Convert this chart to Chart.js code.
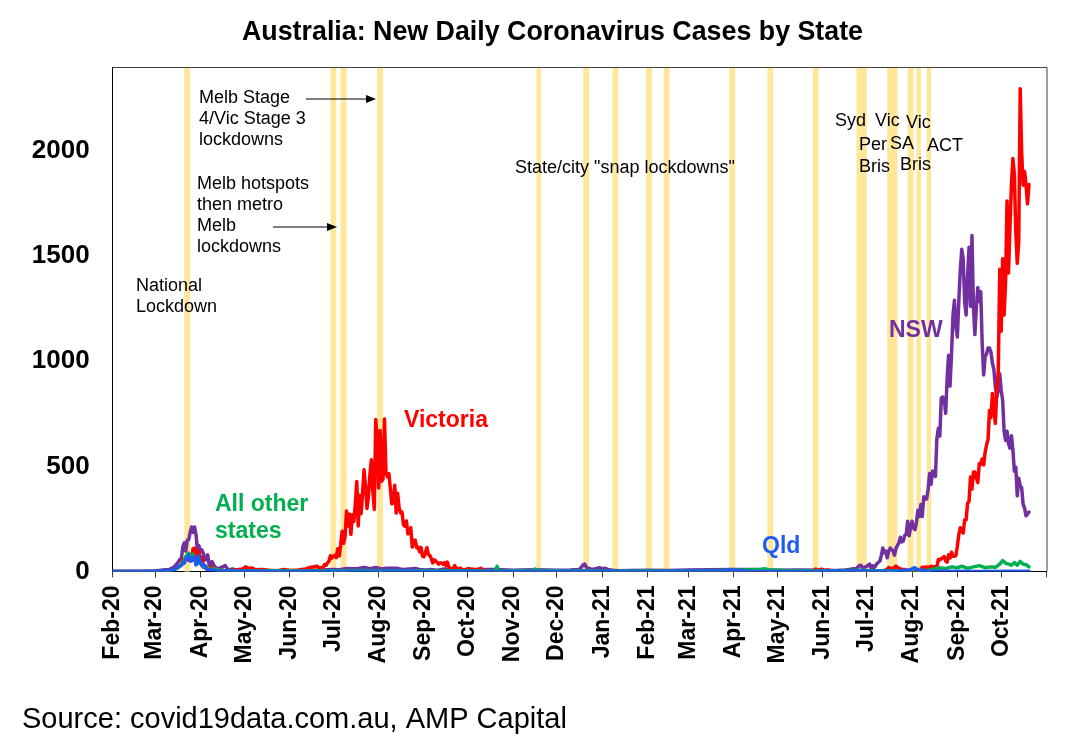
<!DOCTYPE html>
<html>
<head>
<meta charset="utf-8">
<script src="https://cdn.jsdelivr.net/npm/chart.js@4.4.1/dist/chart.umd.min.js"></script>
<style>
html,body{margin:0;padding:0;background:#fff;}
#wrap{width:1075px;height:743px;position:relative;}
</style>
</head>
<body>
<div id="wrap"><canvas id="c" width="1075" height="743"></canvas></div>
<script>
// ---------- DATA ----------
const tickDates = ['2020-02-01','2020-03-01','2020-04-01','2020-05-01','2020-06-01','2020-07-01','2020-08-01','2020-09-01','2020-10-01','2020-11-01','2020-12-01',
  '2021-01-01','2021-02-01','2021-03-01','2021-04-01','2021-05-01','2021-06-01','2021-07-01','2021-08-01','2021-09-01','2021-10-01','2021-11-01'];
const tickLabels = ['Feb-20','Mar-20','Apr-20','May-20','Jun-20','Jul-20','Aug-20','Sep-20','Oct-20','Nov-20','Dec-20',
  'Jan-21','Feb-21','Mar-21','Apr-21','May-21','Jun-21','Jul-21','Aug-21','Sep-21','Oct-21',''];
const yTicks = [0,500,1000,1500,2000];

// lockdown periods (start, end)
const lockdownStarts = ['2020-03-21','2020-06-29','2020-07-06','2020-07-31','2020-11-17','2020-12-19','2021-01-08','2021-01-31','2021-02-12','2021-03-29','2021-04-24','2021-05-25','2021-06-24','2021-07-15','2021-07-29','2021-08-04','2021-08-11'];
const lockdownEnds   = ['2020-03-25','2020-07-03','2020-07-10','2020-08-04','2020-11-20','2020-12-23','2021-01-12','2021-02-04','2021-02-16','2021-04-02','2021-04-28','2021-05-29','2021-07-01','2021-07-22','2021-08-02','2021-08-07','2021-08-14'];

const vicPoints = [
['2020-02-01',0],['2020-02-25',0],['2020-03-03',2],['2020-03-10',4],['2020-03-14',12],['2020-03-16',14],['2020-03-18',27],['2020-03-19',29],['2020-03-20',57],['2020-03-21',51],['2020-03-22',67],['2020-03-23',55],['2020-03-24',56],['2020-03-25',51],['2020-03-26',54],['2020-03-27',109],['2020-03-28',111],['2020-03-29',56],['2020-03-30',50],['2020-03-31',96],['2020-04-01',51],['2020-04-02',68],['2020-04-03',20],['2020-04-04',29],['2020-04-05',12],['2020-04-06',20],['2020-04-07',16],['2020-04-08',21],['2020-04-09',14],['2020-04-11',10],['2020-04-13',8],['2020-04-17',5],['2020-04-22',3],['2020-04-26',8],['2020-04-30',12],['2020-05-02',22],['2020-05-04',14],['2020-05-06',17],['2020-05-09',8],['2020-05-13',10],['2020-05-18',6],['2020-05-24',4],['2020-05-28',10],['2020-06-02',5],['2020-06-07',7],['2020-06-12',12],['2020-06-15',19],['2020-06-17',21],['2020-06-20',25],['2020-06-21',16],['2020-06-22',19],['2020-06-23',17],['2020-06-24',20],['2020-06-25',33],['2020-06-26',30],['2020-06-27',41],['2020-06-28',49],['2020-06-29',75],['2020-06-30',64],
['2020-07-01',73],['2020-07-02',77],['2020-07-03',66],['2020-07-04',108],['2020-07-05',74],['2020-07-06',127],['2020-07-07',191],['2020-07-08',134],['2020-07-09',165],['2020-07-10',288],['2020-07-11',216],['2020-07-12',273],['2020-07-13',177],['2020-07-14',270],['2020-07-15',238],['2020-07-16',317],['2020-07-17',428],['2020-07-18',217],['2020-07-19',363],['2020-07-20',275],['2020-07-21',374],['2020-07-22',484],['2020-07-23',403],['2020-07-24',300],['2020-07-25',357],['2020-07-26',459],['2020-07-27',532],['2020-07-28',384],['2020-07-29',295],['2020-07-30',723],['2020-07-31',627],
['2020-08-01',397],['2020-08-02',671],['2020-08-03',429],['2020-08-04',439],['2020-08-05',725],['2020-08-06',471],['2020-08-07',450],['2020-08-08',466],['2020-08-09',394],['2020-08-10',322],['2020-08-11',331],['2020-08-12',410],['2020-08-13',278],['2020-08-14',372],['2020-08-15',303],['2020-08-16',279],['2020-08-17',282],['2020-08-18',222],['2020-08-19',216],['2020-08-20',240],['2020-08-21',179],['2020-08-22',182],['2020-08-23',208],['2020-08-24',116],['2020-08-25',148],['2020-08-26',149],['2020-08-27',113],['2020-08-28',116],['2020-08-29',94],['2020-08-30',114],['2020-08-31',73],
['2020-09-01',70],['2020-09-02',90],['2020-09-03',113],['2020-09-04',81],['2020-09-05',76],['2020-09-06',63],['2020-09-07',41],['2020-09-08',55],['2020-09-09',51],['2020-09-10',43],['2020-09-11',35],['2020-09-12',41],['2020-09-13',41],['2020-09-14',35],['2020-09-15',42],['2020-09-16',28],['2020-09-17',45],['2020-09-18',21],['2020-09-19',14],['2020-09-20',14],['2020-09-21',11],['2020-09-22',28],['2020-09-23',15],['2020-09-24',14],['2020-09-25',12],['2020-09-26',16],['2020-09-27',5],['2020-09-28',10],['2020-09-30',8],['2020-10-01',14],['2020-10-03',12],['2020-10-05',11],['2020-10-07',9],['2020-10-10',15],['2020-10-12',3],['2020-10-15',2],['2020-10-20',4],['2020-10-26',1],['2020-11-05',0],['2020-12-10',0],['2020-12-30',3],['2021-01-01',3],['2021-01-04',2],['2021-01-08',0],['2021-02-03',1],['2021-02-09',3],['2021-02-11',5],['2021-02-13',2],['2021-02-18',1],['2021-03-05',0],['2021-04-20',0],['2021-05-11',1],['2021-05-24',2],['2021-05-26',6],['2021-05-27',12],['2021-05-29',5],['2021-05-31',11],['2021-06-02',4],['2021-06-04',7],['2021-06-08',2],['2021-06-20',1],
['2021-07-11',1],['2021-07-13',5],['2021-07-15',10],['2021-07-16',19],['2021-07-17',16],['2021-07-19',13],['2021-07-21',26],['2021-07-23',14],['2021-07-25',11],['2021-07-27',10],['2021-07-30',1],['2021-08-03',1],['2021-08-05',6],['2021-08-07',11],['2021-08-08',20],['2021-08-10',20],['2021-08-12',21],['2021-08-13',14],['2021-08-14',25],['2021-08-16',22],['2021-08-18',24],['2021-08-19',57],['2021-08-20',55],['2021-08-21',61],['2021-08-22',65],['2021-08-23',71],['2021-08-24',50],['2021-08-25',45],['2021-08-26',80],['2021-08-27',64],['2021-08-28',92],['2021-08-29',73],['2021-08-30',73],['2021-08-31',76],
['2021-09-01',120],['2021-09-02',176],['2021-09-03',208],['2021-09-04',190],['2021-09-05',183],['2021-09-06',246],['2021-09-07',246],['2021-09-08',324],['2021-09-09',334],['2021-09-10',450],['2021-09-11',392],['2021-09-12',473],['2021-09-13',473],['2021-09-14',445],['2021-09-15',423],['2021-09-16',514],['2021-09-17',510],['2021-09-18',535],['2021-09-19',507],['2021-09-20',567],['2021-09-21',603],['2021-09-22',628],['2021-09-23',766],['2021-09-24',733],['2021-09-25',847],['2021-09-26',779],['2021-09-27',705],['2021-09-28',867],['2021-09-29',950],['2021-09-30',1438],
['2021-10-01',1143],['2021-10-02',1488],['2021-10-03',1220],['2021-10-04',1377],['2021-10-05',1763],['2021-10-06',1420],['2021-10-07',1638],['2021-10-08',1838],['2021-10-09',1965],['2021-10-10',1890],['2021-10-11',1612],['2021-10-12',1466],['2021-10-13',1571],['2021-10-14',2297],['2021-10-15',1993],['2021-10-16',1838],['2021-10-17',1903],['2021-10-18',1838],['2021-10-19',1749],['2021-10-20',1841]
];

const nswPoints = [
['2020-02-01',0],['2020-02-20',0],['2020-03-01',2],['2020-03-05',6],['2020-03-08',8],['2020-03-10',8],['2020-03-12',13],['2020-03-14',22],['2020-03-16',37],['2020-03-18',57],['2020-03-19',62],['2020-03-20',117],['2020-03-21',136],['2020-03-22',97],['2020-03-23',149],['2020-03-24',151],['2020-03-25',185],['2020-03-26',212],['2020-03-27',186],['2020-03-28',212],['2020-03-29',176],['2020-03-30',101],['2020-03-31',123],['2020-04-01',94],['2020-04-02',103],['2020-04-03',87],['2020-04-04',54],['2020-04-05',57],['2020-04-06',79],['2020-04-07',31],['2020-04-08',29],['2020-04-09',47],['2020-04-10',32],['2020-04-11',22],['2020-04-12',17],['2020-04-13',13],['2020-04-15',18],['2020-04-17',24],['2020-04-18',28],['2020-04-20',7],['2020-04-23',12],['2020-04-27',5],['2020-05-03',6],['2020-05-10',3],['2020-05-20',2],['2020-06-01',3],['2020-06-10',4],['2020-06-20',6],
['2020-07-01',10],['2020-07-05',8],['2020-07-10',14],['2020-07-14',13],['2020-07-18',14],['2020-07-22',19],['2020-07-26',13],['2020-07-30',19],['2020-08-03',12],['2020-08-06',15],['2020-08-10',16],['2020-08-14',15],['2020-08-18',9],['2020-08-22',12],['2020-08-26',14],['2020-08-29',10],['2020-09-02',7],['2020-09-06',9],['2020-09-10',6],['2020-09-15',12],['2020-09-20',7],['2020-09-30',5],['2020-10-10',10],['2020-10-20',9],['2020-11-01',6],['2020-11-15',8],['2020-12-01',6],['2020-12-10',7],['2020-12-16',10],['2020-12-17',14],['2020-12-18',23],['2020-12-19',33],['2020-12-20',35],['2020-12-21',22],['2020-12-22',12],['2020-12-23',15],['2020-12-24',12],['2020-12-26',11],['2020-12-28',14],['2020-12-30',18],['2021-01-01',13],['2021-01-03',15],['2021-01-05',10],['2021-01-08',6],['2021-01-12',4],['2021-01-20',5],['2021-02-01',6],['2021-02-15',5],['2021-03-01',7],['2021-03-15',8],['2021-04-01',9],['2021-04-15',10],['2021-05-01',6],['2021-05-15',7],['2021-06-01',6],['2021-06-10',5],['2021-06-16',7],['2021-06-19',10],['2021-06-22',13],['2021-06-24',14],['2021-06-25',22],['2021-06-26',29],['2021-06-27',30],['2021-06-28',18],['2021-06-29',19],['2021-06-30',22],
['2021-07-01',24],['2021-07-02',31],['2021-07-03',35],['2021-07-04',16],['2021-07-05',27],['2021-07-06',18],['2021-07-07',27],['2021-07-08',38],['2021-07-09',44],['2021-07-10',50],['2021-07-11',77],['2021-07-12',112],['2021-07-13',89],['2021-07-14',97],['2021-07-15',65],['2021-07-16',97],['2021-07-17',111],['2021-07-18',105],['2021-07-19',98],['2021-07-20',78],['2021-07-21',110],['2021-07-22',124],['2021-07-23',136],['2021-07-24',163],['2021-07-25',141],['2021-07-26',145],['2021-07-27',172],['2021-07-28',177],['2021-07-29',239],['2021-07-30',170],['2021-07-31',210],
['2021-08-01',239],['2021-08-02',207],['2021-08-03',199],['2021-08-04',233],['2021-08-05',291],['2021-08-06',262],['2021-08-07',319],['2021-08-08',262],['2021-08-09',356],['2021-08-10',344],['2021-08-11',345],['2021-08-12',390],['2021-08-13',466],['2021-08-14',415],['2021-08-15',478],['2021-08-16',470],['2021-08-17',452],['2021-08-18',633],['2021-08-19',681],['2021-08-20',644],['2021-08-21',825],['2021-08-22',830],['2021-08-23',818],['2021-08-24',753],['2021-08-25',919],['2021-08-26',1029],['2021-08-27',882],['2021-08-28',1035],['2021-08-29',1218],['2021-08-30',1290],['2021-08-31',1164],
['2021-09-01',1116],['2021-09-02',1288],['2021-09-03',1431],['2021-09-04',1533],['2021-09-05',1485],['2021-09-06',1281],['2021-09-07',1220],['2021-09-08',1405],['2021-09-09',1542],['2021-09-10',1262],['2021-09-11',1599],['2021-09-12',1257],['2021-09-13',1127],['2021-09-14',1259],['2021-09-15',1351],['2021-09-16',1284],['2021-09-17',1331],['2021-09-18',1083],['2021-09-19',935],['2021-09-20',1022],['2021-09-21',1035],['2021-09-22',1063],['2021-09-23',1063],['2021-09-24',1043],['2021-09-25',990],['2021-09-26',961],['2021-09-27',878],['2021-09-28',830],['2021-09-29',863],['2021-09-30',941],
['2021-10-01',864],['2021-10-02',813],['2021-10-03',667],['2021-10-04',623],['2021-10-05',667],['2021-10-06',608],['2021-10-07',587],['2021-10-08',646],['2021-10-09',580],['2021-10-10',477],['2021-10-11',496],['2021-10-12',360],['2021-10-13',444],['2021-10-14',406],['2021-10-15',399],['2021-10-16',319],['2021-10-17',301],['2021-10-18',265],['2021-10-19',273],['2021-10-20',283]
];

const qldPoints = [
['2020-02-01',0],['2020-03-01',1],['2020-03-08',3],['2020-03-12',5],['2020-03-16',18],['2020-03-18',25],['2020-03-20',37],['2020-03-21',40],['2020-03-22',60],['2020-03-23',60],['2020-03-24',78],['2020-03-25',50],['2020-03-26',50],['2020-03-27',68],['2020-03-28',65],['2020-03-29',31],['2020-03-30',45],['2020-03-31',75],['2020-04-01',46],['2020-04-02',28],['2020-04-03',35],['2020-04-04',27],['2020-04-05',15],['2020-04-06',9],['2020-04-08',8],['2020-04-12',4],['2020-04-20',2],['2020-05-01',1],['2020-06-01',0],['2020-08-01',1],['2020-08-20',2],['2020-09-01',0],['2021-01-08',1],['2021-02-01',0],['2021-03-27',4],['2021-03-29',10],['2021-03-31',7],['2021-04-02',3],['2021-04-10',1],['2021-05-20',0],['2021-06-29',3],['2021-07-02',2],['2021-07-20',1],['2021-07-30',7],['2021-08-01',13],['2021-08-02',16],['2021-08-03',18],['2021-08-04',10],['2021-08-06',9],['2021-08-08',5],['2021-08-11',2],['2021-08-20',1],['2021-09-15',0],['2021-10-20',1]
];

const otherPoints = [
['2020-02-01',0],['2020-03-01',1],['2020-03-08',3],['2020-03-12',6],['2020-03-15',12],['2020-03-17',20],['2020-03-19',35],['2020-03-20',42],['2020-03-21',55],['2020-03-22',70],['2020-03-23',80],['2020-03-24',88],['2020-03-25',75],['2020-03-26',68],['2020-03-27',82],['2020-03-28',62],['2020-03-29',57],['2020-03-30',52],['2020-03-31',38],['2020-04-01',45],['2020-04-02',30],['2020-04-03',27],['2020-04-04',18],['2020-04-05',14],['2020-04-06',20],['2020-04-07',12],['2020-04-09',9],['2020-04-11',12],['2020-04-13',8],['2020-04-16',5],['2020-04-22',3],['2020-05-01',2],['2020-05-20',4],['2020-06-10',2],['2020-07-01',3],['2020-07-20',5],['2020-08-10',3],['2020-09-01',4],['2020-09-20',3],['2020-10-10',2],['2020-10-20',4],['2020-10-21',25],['2020-10-22',5],['2020-11-05',3],['2020-11-15',6],['2020-11-16',12],['2020-11-17',9],['2020-11-19',4],['2020-12-05',3],['2020-12-20',4],['2021-01-10',2],['2021-01-31',3],['2021-02-15',2],['2021-03-10',4],['2021-03-25',5],['2021-04-10',7],['2021-04-18',9],['2021-04-22',13],['2021-04-25',8],['2021-05-05',5],['2021-05-20',3],['2021-06-10',4],['2021-06-28',6],['2021-07-05',3],['2021-07-20',4],['2021-07-25',3],['2021-08-05',6],['2021-08-12',5],['2021-08-16',12],['2021-08-20',18],['2021-08-24',14],['2021-08-28',22],['2021-09-01',18],['2021-09-04',25],['2021-09-08',15],['2021-09-12',22],['2021-09-16',28],['2021-09-20',18],['2021-09-24',22],['2021-09-27',20],['2021-09-30',35],['2021-10-02',52],['2021-10-04',40],['2021-10-06',35],['2021-10-08',30],['2021-10-10',42],['2021-10-12',30],['2021-10-14',48],['2021-10-16',35],['2021-10-18',32],['2021-10-20',22]
];

// ---------- STYLE / LAYOUT ----------
const FONT = "'Liberation Sans', Arial, sans-serif";
const C_VIC = '#FF0000', C_NSW = '#7030A0', C_QLD = '#1F5AF5', C_OTH = '#00B050', C_BAND = '#FFE699';

const BASE = Date.UTC(2020, 1, 1);
function dayOf(s) { const p = s.split('-').map(Number); return (Date.UTC(p[0], p[1] - 1, p[2]) - BASE) / 864e5; }
const toXY = pts => pts.map(p => ({ x: dayOf(p[0]), y: p[1] }));

const notes = [
  ['National',136,286],['Lockdown',136,307],
  ['Melb Stage',199,98],['4/Vic Stage 3',199,119],['lockdowns',199,140],
  ['Melb hotspots',197,184],['then metro',197,205],['Melb',197,226],['lockdowns',197,247],
  ['State/city "snap lockdowns"',515,168],
  ['Syd',835,121],['Vic',875,121],['Vic',906,123],
  ['Per',859,145],['SA',890,144],['ACT',927,146],
  ['Bris',859,167],['Bris',900,165]
];
const seriesNotes = [
  ['Victoria',404,421,C_VIC],['NSW',889,331,C_NSW],['All other',215,505,C_OTH],['states',215,532,C_OTH],['Qld',762,547,C_QLD]
];
const arrows = [[306,376,99],[273,337,227]];

const decor = {
  id: 'decor',
  beforeDatasetsDraw(chart) {
    const { ctx, chartArea: a, scales: { x } } = chart;
    ctx.save();
    ctx.fillStyle = C_BAND;
    for (let i = 0; i < lockdownStarts.length; i++) {
      const x1 = x.getPixelForValue(dayOf(lockdownStarts[i]));
      const x2 = x.getPixelForValue(dayOf(lockdownEnds[i]));
      ctx.fillRect(x1, a.top, x2 - x1, a.bottom - a.top);
    }
    ctx.restore();
  },
  afterDraw(chart) {
    const { ctx, chartArea: a } = chart;
    ctx.save();
    // frame top/right
    ctx.strokeStyle = '#404040'; ctx.lineWidth = 1;
    ctx.beginPath();
    ctx.moveTo(a.left, a.top + 0.5); ctx.lineTo(a.right + 0.5, a.top + 0.5); ctx.lineTo(a.right + 0.5, a.bottom);
    ctx.stroke();
    // title
    ctx.fillStyle = '#000'; ctx.textBaseline = 'middle'; ctx.textAlign = 'left';
    ctx.font = 'bold 26.8px ' + FONT;
    ctx.fillText('Australia: New Daily Coronavirus Cases by State', 242, 33);
    // source
    ctx.font = '29px ' + FONT;
    ctx.fillText('Source: covid19data.com.au, AMP Capital', 22, 720);
    // annotations
    ctx.font = '18px ' + FONT;
    notes.forEach(n => ctx.fillText(n[0], n[1], n[2]));
    ctx.font = 'bold 23px ' + FONT;
    seriesNotes.forEach(n => { ctx.fillStyle = n[3]; ctx.fillText(n[0], n[1], n[2]); });
    // arrows
    ctx.strokeStyle = '#000'; ctx.fillStyle = '#000'; ctx.lineWidth = 1.2;
    arrows.forEach(r => {
      ctx.beginPath(); ctx.moveTo(r[0], r[2]); ctx.lineTo(r[1] - 8, r[2]); ctx.stroke();
      ctx.beginPath(); ctx.moveTo(r[1], r[2]); ctx.lineTo(r[1] - 10, r[2] - 4); ctx.lineTo(r[1] - 10, r[2] + 4); ctx.closePath(); ctx.fill();
    });
    ctx.restore();
  }
};

const lineDs = (label, pts, color) => ({
  label, data: toXY(pts), borderColor: color, backgroundColor: color,
  borderWidth: 3.5, pointRadius: 0, tension: 0, fill: false,
  borderJoinStyle: 'round', borderCapStyle: 'round'
});

new Chart(document.getElementById('c'), {
  type: 'line',
  data: {
    datasets: [
      lineDs('Qld', qldPoints, C_QLD),
      lineDs('All other states', otherPoints, C_OTH),
      lineDs('Victoria', vicPoints, C_VIC),
      lineDs('NSW', nswPoints, C_NSW)
    ]
  },
  options: {
    responsive: false,
    animation: false,
    events: [],
    layout: { padding: { top: 67, right: 28.5, left: 0, bottom: 0 } },
    plugins: { legend: { display: false }, title: { display: false }, tooltip: { enabled: false } },
    scales: {
      x: {
        type: 'linear', min: 0, max: dayOf('2021-11-01'),
        afterBuildTicks: s => { s.ticks = tickDates.map(d => ({ value: dayOf(d) })); },
        afterFit: s => { s.height = 171.5; s.paddingLeft = 0; s.paddingRight = 0; },
        ticks: {
          autoSkip: false, minRotation: 90, maxRotation: 90, padding: 8, color: '#000',
          font: { family: FONT, size: 23, weight: 'bold' },
          callback: (v, i) => tickLabels[i]
        },
        grid: { display: true, drawOnChartArea: false, drawTicks: true, tickLength: 6, color: '#404040' },
        border: { display: true, color: '#000', width: 1 }
      },
      y: {
        min: 0, max: 2400,
        afterBuildTicks: s => { s.ticks = yTicks.map(v => ({ value: v })); },
        afterFit: s => { s.width = 112.7; s.paddingTop = 0; s.paddingBottom = 0; },
        ticks: { color: '#000', padding: 15, font: { family: FONT, size: 26, weight: 'bold' }, callback: v => String(v) },
        grid: { display: false },
        border: { display: true, color: '#000', width: 1 }
      }
    }
  },
  plugins: [decor]
});
</script>
</body>
</html>
